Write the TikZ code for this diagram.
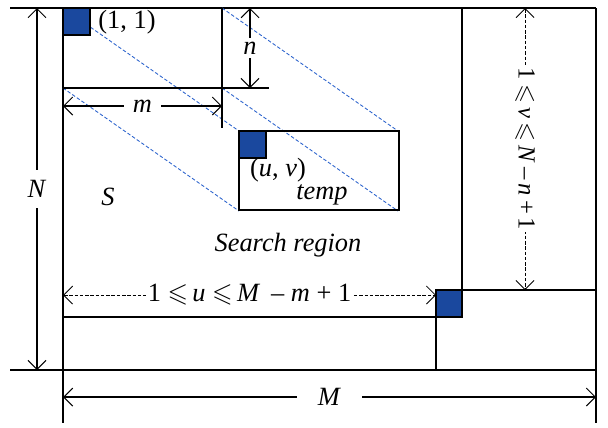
\documentclass[tikz,border=0pt]{standalone}
\usepackage{amssymb}
\usepackage{fontspec}
\setmainfont{Liberation Serif}
\usetikzlibrary{arrows.meta}
\definecolor{pixblue}{RGB}{26,72,158}
\definecolor{projblue}{RGB}{45,100,205}
\begin{document}
\begin{tikzpicture}[x=0.02cm, y=-0.02cm, line width=0.6pt,
    font=\fontsize{15}{17}\selectfont,
    pixel/.style={draw=black, fill=pixblue},
    proj/.style={draw=projblue, dash pattern=on 2pt off 1.2pt, line width=0.5pt},
    dimen/.style={{Straight Barb[length=1.8mm]}-{Straight Barb[length=1.8mm]}},
    rangeline/.style={dimen, dash pattern=on 2pt off 1pt, line width=0.5pt},
    gap/.style={midway, fill=white, inner sep=2pt}]
  \useasboundingbox (0,0) rectangle (608,427);
  % image S
  \draw (10,8) -- (596,8);
  \draw (10,370) -- (596,370);
  \draw (63,8) -- (63,423);
  \draw (596,8) -- (596,423);
  % projections of the template
  \foreach \px/\py in {63/8, 222/8, 63/88, 222/88}
    \draw[proj] (\px,\py) -- ++(176,123);
  % template at (1,1)
  \draw (63,88) -- (269,88);
  \draw (222,8) -- (222,128);
  \draw[pixel] (63,8) rectangle (90,35);
  \node (first) at (127,22) {(1, 1)};
  \draw[dimen] (250,8) -- (250,88) node[gap] (n) {\textit{n}};
  \draw[dimen] (63,106) -- (222,106) node[gap, inner xsep=5pt] (m) {\textit{m}};
  % template at (u,v)
  \draw (239,131) rectangle (399,210);
  \draw[pixel] (239,131) rectangle (266,158);
  \node (uv) at (278,170) {(\textit{u}, \textit{v})};
  \node (temp) at (322,195) {\textit{temp}};
  \node (S) at (108,197) {\textit{S}};
  \node (region) at (288,245) {\textit{Search region}};
  % last position
  \draw (462,8) -- (462,290);
  \draw (63,317) -- (436,317);
  \draw (436,290) rectangle (596,370);
  \draw[pixel] (436,290) rectangle (462,317);
  % ranges of u and v
  \draw[rangeline] (63,295) -- (436,295) node[gap, inner sep=1pt] (urange)
    {1 $\leqslant$\,\textit{u} $\leqslant$\,\textit{M}\, -- \textit{m} + 1};
  \draw[rangeline] (525,8) -- (525,290) node[gap, inner sep=1pt, rotate=-90,
      font=\fontsize{14}{16}\selectfont] (vrange)
    {1\,$\leqslant$\,\textit{v}\,$\leqslant$\,\textit{N}\,--\,\textit{n}\,+\,1};
  % size of S
  \draw[dimen] (37,8) -- (37,370) node[gap, inner ysep=6pt] (N) {\textit{N}};
  \draw[dimen] (63,397) -- (596,397) node[gap, inner xsep=12pt] (M) {\textit{M}};
\end{tikzpicture}
\end{document}
